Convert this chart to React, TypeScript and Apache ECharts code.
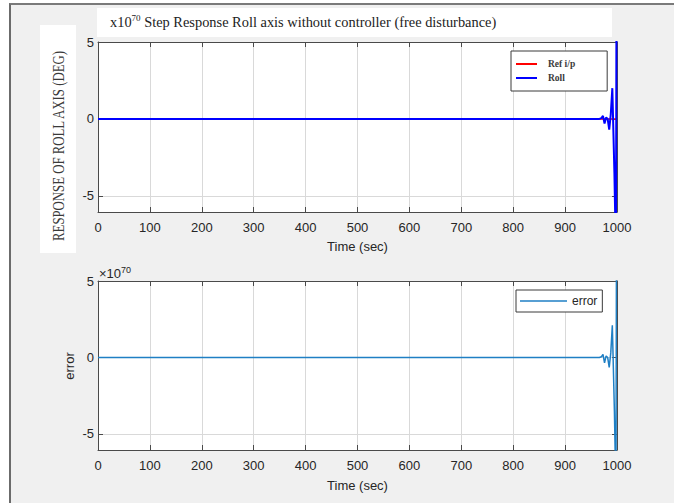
import React, { useEffect, useRef } from 'react';
import * as echarts from 'echarts';

// Time samples (sec) and responses in units of 1e70
const timeSec = [0, 100, 200, 300, 400, 500, 600, 700, 800, 900, 960, 966, 970, 973, 976, 979, 982, 985, 988, 991, 995, 998, 1000];
const rollResponse = [0, 0, 0, 0, 0, 0, 0, 0, 0, 0, 0, 0, 0.05, 0.2, -0.3, 0.1, 0, -0.7, 0.3, 2.0, -3.5, -9, 25];
const errorValues = [0, 0, 0, 0, 0, 0, 0, 0, 0, 0, 0, 0, 0.05, 0.2, -0.35, 0.1, 0, -0.65, 0.3, 2.1, -3.5, -9, 25];
const refTime = [0, 1000];
const refValues = [1e-70, 1e-70];
const yTicks = [-5, 0, 5];
const xMin = 0;
const xMax = 1000;
const xStep = 100;
const yMin = -6.05;
const yMax = 5;

const SANS = 'Liberation Sans';
const SERIF = 'Liberation Serif';
const AX = '#4a4a4a';
const TXT = '#262626';

function pairs(xs: number[], ys: number[]) {
  return xs.map((x, i) => [x, ys[i]]);
}

function mainX(gridIndex: number, nameGap: number) {
  return {
    type: 'value', gridIndex, min: xMin, max: xMax, interval: xStep,
    name: 'Time (sec)', nameLocation: 'middle', nameGap,
    nameTextStyle: { fontFamily: SANS, fontSize: 13, color: TXT },
    axisLine: { show: true, onZero: false, lineStyle: { color: AX, width: 1 } },
    axisTick: { show: true, inside: true, length: 5, lineStyle: { color: AX } },
    axisLabel: { fontFamily: SANS, fontSize: 13, color: TXT, margin: 9, formatter: (v: number) => String(v) },
    splitLine: { show: true, lineStyle: { color: '#d9d9d9', width: 1 } },
  };
}
function topX(gridIndex: number) {
  return {
    type: 'value', gridIndex, position: 'top', min: xMin, max: xMax, interval: xStep,
    axisLine: { show: true, onZero: false, lineStyle: { color: AX, width: 1 } },
    axisTick: { show: true, inside: true, length: 5, lineStyle: { color: AX } },
    axisLabel: { show: false }, splitLine: { show: false },
  };
}
function mainY(gridIndex: number) {
  return {
    type: 'value', gridIndex, min: yMin, max: yMax,
    axisLine: { show: true, onZero: false, lineStyle: { color: AX, width: 1 } },
    axisTick: { show: true, inside: true, length: 5, customValues: yTicks, lineStyle: { color: AX } },
    axisLabel: { fontFamily: SANS, fontSize: 13, color: TXT, margin: 4, customValues: yTicks, formatter: (v: number) => String(v) },
    splitLine: { show: true, lineStyle: { color: '#d9d9d9', width: 1 } },
  };
}
function rightY(gridIndex: number) {
  return {
    type: 'value', gridIndex, position: 'right', min: yMin, max: yMax,
    axisLine: { show: true, onZero: false, lineStyle: { color: AX, width: 1 } },
    axisTick: { show: true, inside: true, length: 5, customValues: yTicks, lineStyle: { color: AX } },
    axisLabel: { show: false }, splitLine: { show: false },
  };
}

export default function App() {
  const ref = useRef<HTMLDivElement>(null);
  useEffect(() => {
    if (!ref.current) return;
    const chart = echarts.init(ref.current, undefined, { renderer: 'svg' });
    chart.setOption({
      animation: false,
      grid: [
        { left: 98, top: 42, width: 519, height: 170, show: true, backgroundColor: '#fff', borderWidth: 0 },
        { left: 98, top: 281, width: 519, height: 169, show: true, backgroundColor: '#fff', borderWidth: 0 },
      ],
      xAxis: [mainX(0, 28), topX(0), mainX(1, 29), topX(1)],
      yAxis: [mainY(0), rightY(0), mainY(1), rightY(1)],
      legend: [
        {
          data: ['Ref i/p', 'Roll'], orient: 'vertical', left: 511, top: 51,
          padding: [7, 32, 7, 5], itemWidth: 21, itemHeight: 2, itemGap: 2, icon: 'rect',
          backgroundColor: '#fff', borderColor: '#3a3a3a', borderWidth: 1, selectedMode: false,
          textStyle: { fontFamily: SERIF, fontSize: 9.5, fontWeight: 'bold', color: '#3a3a3a', lineHeight: 12, padding: [0, 0, 0, 6] },
        },
        {
          data: ['error'], orient: 'vertical', left: 516, top: 290,
          padding: [5, 5, 5, 4], itemWidth: 47, itemHeight: 1.5, icon: 'rect',
          backgroundColor: '#fff', borderColor: '#3a3a3a', borderWidth: 1, selectedMode: false,
          textStyle: { fontFamily: SANS, fontSize: 12, color: TXT, lineHeight: 12 },
        },
      ],
      graphic: [
        { type: 'rect', z: -1, shape: { x: 97, y: 8, width: 515, height: 29 }, style: { fill: '#fff' } },
        { type: 'rect', z: -1, shape: { x: 40, y: 25, width: 36, height: 228 }, style: { fill: '#fff' } },
        {
          type: 'text', x: 110, y: 22,
          style: {
            text: '{b|x10}{s|70}{b| Step Response Roll axis without controller (free disturbance)}',
            verticalAlign: 'middle', align: 'left',
            rich: {
              b: { fontFamily: SERIF, fontSize: 14.4, fill: '#222', lineHeight: 17 },
              s: { fontFamily: SERIF, fontSize: 9, fill: '#222', verticalAlign: 'top', lineHeight: 10 },
            },
          },
        },
        {
          type: 'text', x: 58, y: 146, rotation: Math.PI / 2, scaleX: 0.8,
          style: { text: 'RESPONSE OF ROLL AXIS (DEG)', fontFamily: SERIF, fontSize: 16, fill: '#3a3a3a', align: 'center', verticalAlign: 'middle' },
        },
        {
          type: 'text', x: 69, y: 366, rotation: Math.PI / 2,
          style: { text: 'error', fontFamily: SANS, fontSize: 13, fill: TXT, align: 'center', verticalAlign: 'middle' },
        },
        {
          type: 'text', x: 99, y: 273,
          style: {
            text: '{b|\u00d710}{s|70}', verticalAlign: 'middle', align: 'left',
            rich: {
              b: { fontFamily: SANS, fontSize: 13, fill: TXT, lineHeight: 15 },
              s: { fontFamily: SANS, fontSize: 9, fill: TXT, verticalAlign: 'top', lineHeight: 10 },
            },
          },
        },
        { type: 'rect', shape: { x: 597.5, y: 61, width: 1.2, height: 4 }, style: { fill: '#333' } },
      ],
      series: [
        {
          name: 'Ref i/p', type: 'line', xAxisIndex: 0, yAxisIndex: 0, data: pairs(refTime, refValues),
          showSymbol: false, symbol: 'none', color: '#ff0000', lineStyle: { color: '#ff0000', width: 1.5 }, z: 2,
        },
        {
          name: 'Roll', type: 'line', xAxisIndex: 0, yAxisIndex: 0, data: pairs(timeSec, rollResponse),
          showSymbol: false, symbol: 'none', color: '#0000ff', lineStyle: { color: '#0000ff', width: 2 }, z: 3,
        },
        {
          name: 'error', type: 'line', xAxisIndex: 2, yAxisIndex: 2, data: pairs(timeSec, errorValues),
          showSymbol: false, symbol: 'none', color: '#1f7fc4', lineStyle: { color: '#1f7fc4', width: 1.5 }, z: 3,
        },
      ],
    });
    return () => chart.dispose();
  }, []);
  return (
    <div style={{ position: 'fixed', left: 0, top: 0, width: 674, height: 503, background: '#fff', overflow: 'hidden' }}>
      <div style={{ position: 'absolute', left: 9, top: 3, width: 700, height: 520, background: '#f0f0f0', borderLeft: '2px solid #6b6b6b', borderTop: '2px solid #7a7a7a', boxSizing: 'border-box' }} />
      <div ref={ref} style={{ position: 'absolute', left: 0, top: 0, width: 674, height: 503 }} />
    </div>
  );
}
